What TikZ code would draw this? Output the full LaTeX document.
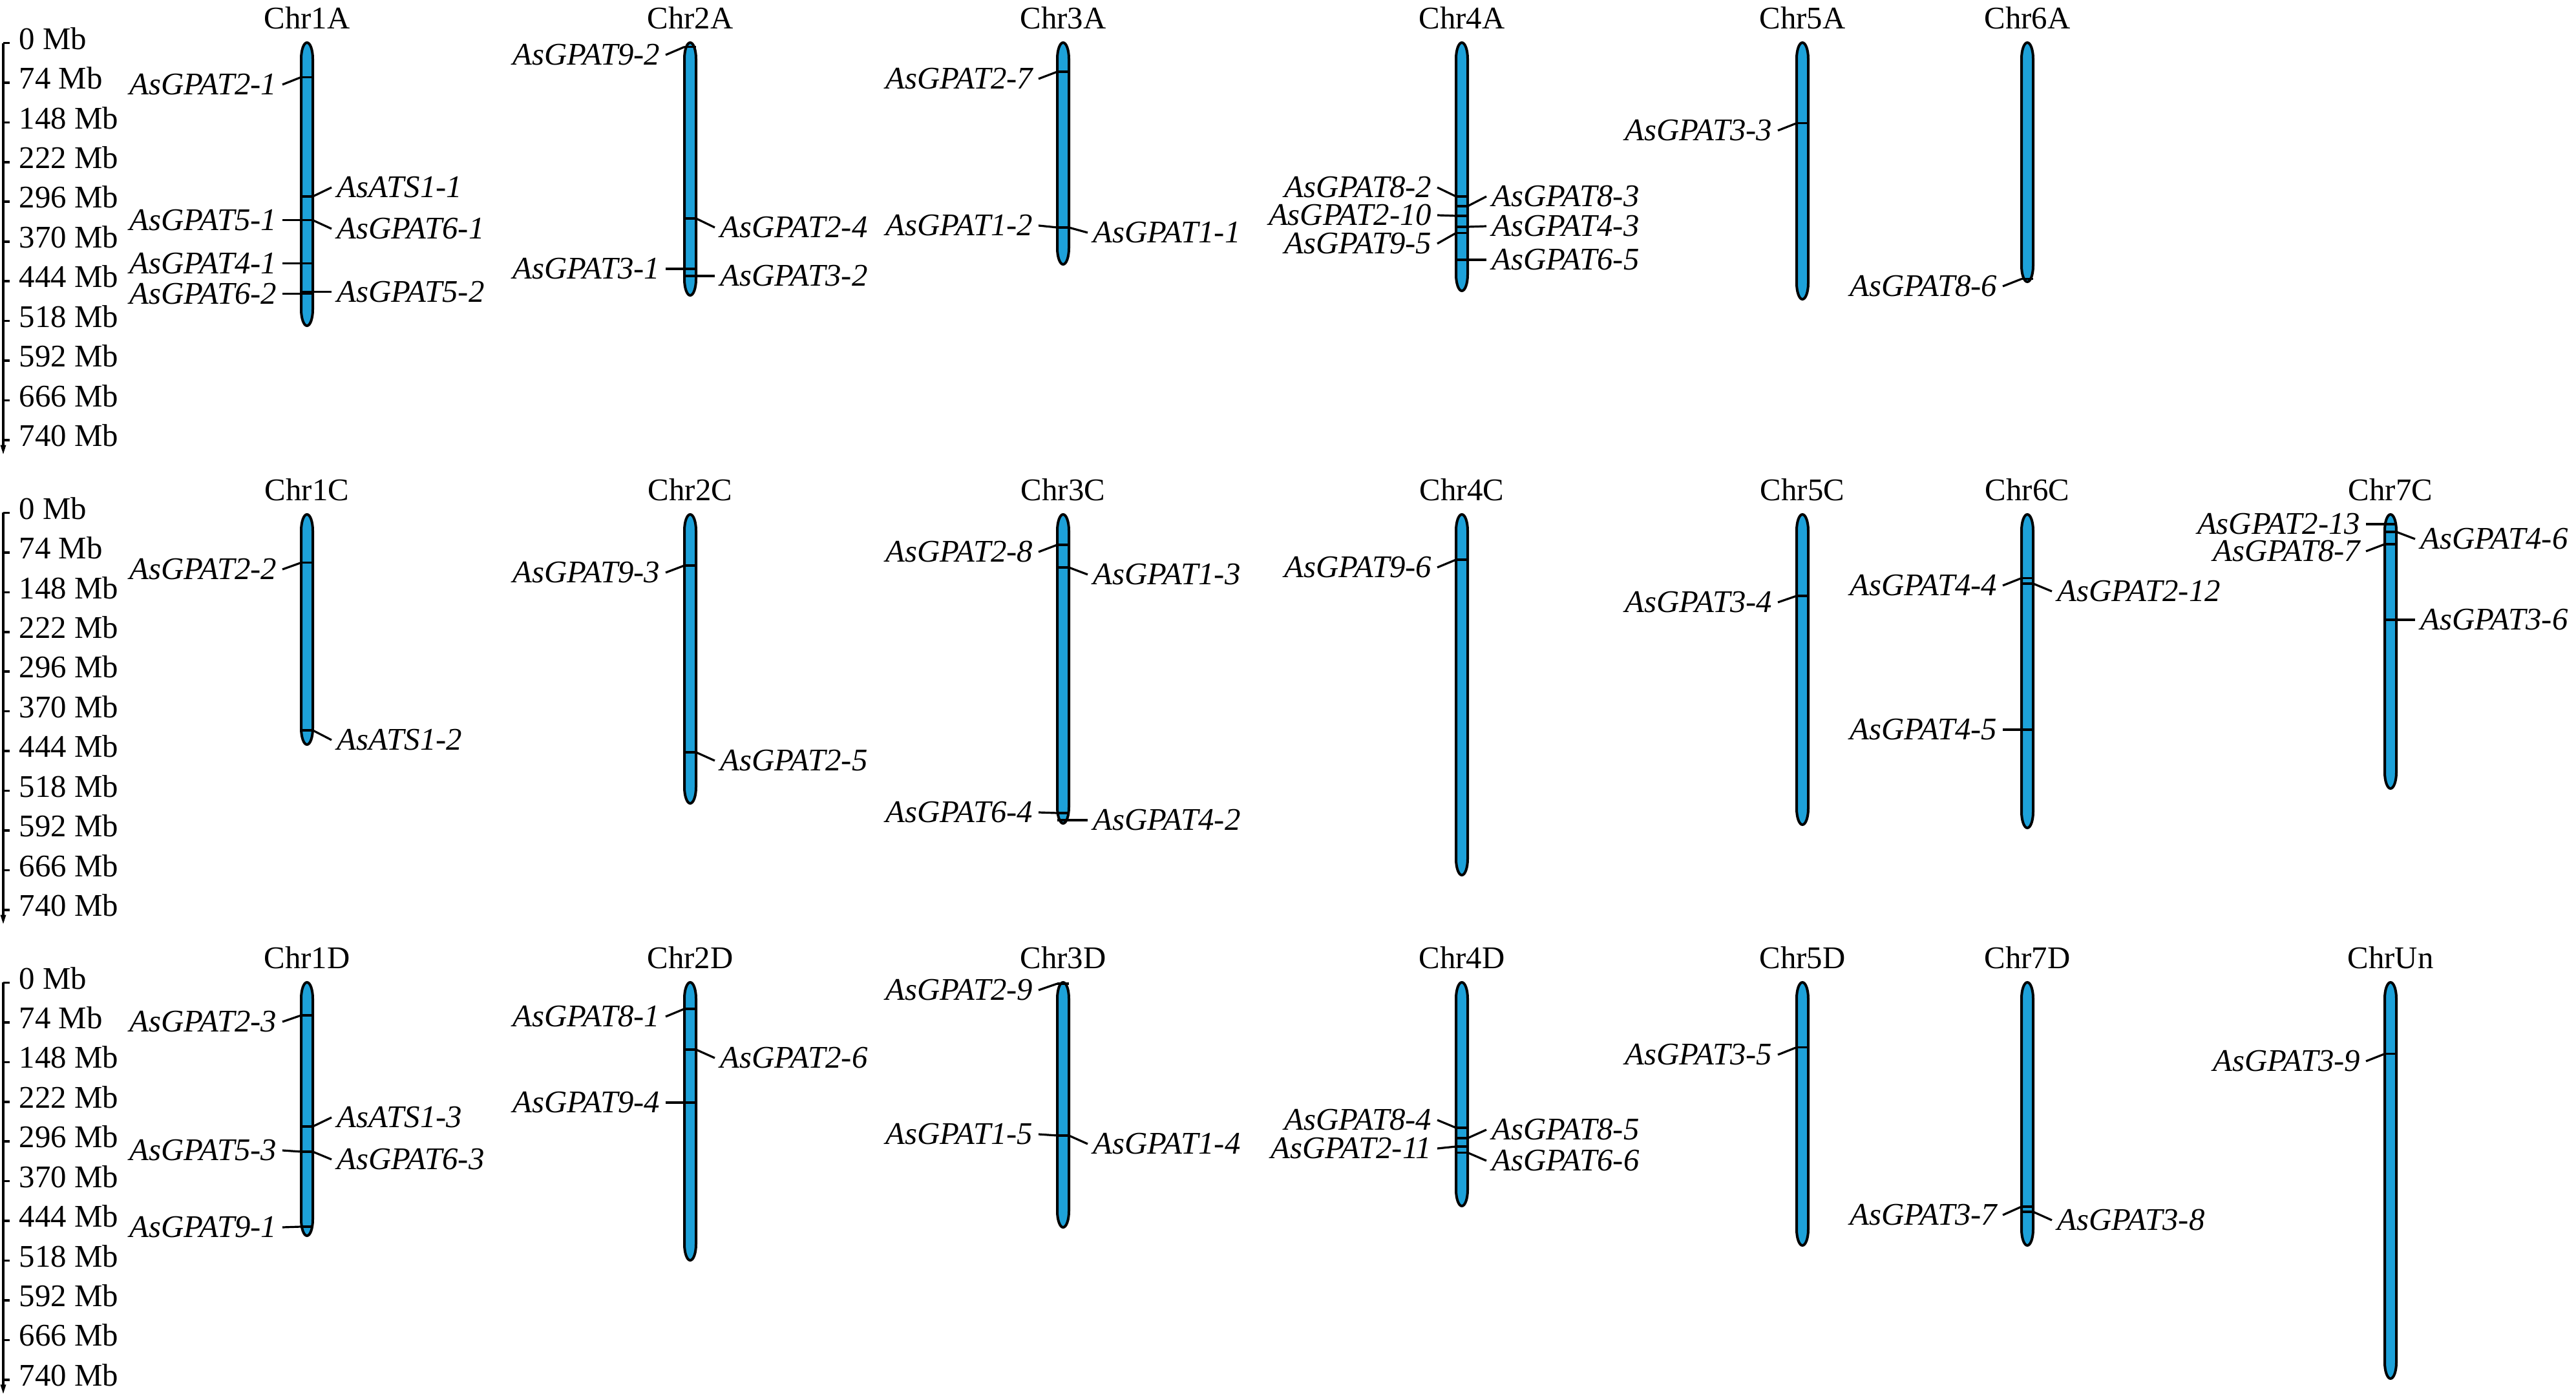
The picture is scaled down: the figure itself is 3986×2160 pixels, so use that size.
\documentclass[tikz,border=0pt]{standalone}
\usepackage{fontspec}
\setmainfont{Liberation Serif}

\begin{document}
\begin{tikzpicture}[x=0.25pt,y=0.25pt,yscale=-1,xscale=1,
  chrom/.style={draw, line width=1pt, fill={rgb, 255:red, 29; green, 161; blue, 217}},
  locus/.style={line width=0.8pt},
  link/.style={line width=0.8pt},
  axis/.style={line width=0.9pt},
  gene/.style={font=\fontsize{12.2}{14}\selectfont\itshape, inner sep=2pt},
  title/.style={font=\fontsize{12.2}{14}\selectfont, inner sep=0.75pt},
  mb/.style={font=\fontsize{12.2}{14}\selectfont, anchor=west, inner sep=1pt}]
\useasboundingbox (0,0) rectangle (3986,2160);

%Straight Lines: scale bar row A
\draw [axis] (5,66.6) -- (5,690) ;
\draw [axis] (5,66.6) -- ++(10,0) (5,128) -- ++(10,0) (5,189.5) -- ++(10,0) (5,250.9) -- ++(10,0) (5,312.3) -- ++(10,0) (5,373.8) -- ++(10,0) (5,435.2) -- ++(10,0) (5,496.6) -- ++(10,0) (5,558) -- ++(10,0) (5,619.5) -- ++(10,0) (5,680.9) -- ++(10,0) ;
\draw [shift={(5,702.6)}, rotate = 270] [fill={rgb, 255:red, 0; green, 0; blue, 0 }  ][line width=0.08]  [draw opacity=0] (14,-4.5) -- (0,0) -- (14,4.5) -- cycle    ;
% Text Node
\draw (25,59.6) node [mb] (sa0) {0 Mb};
\draw (25,121) node [mb] (sa74) {74 Mb};
\draw (25,182.5) node [mb] (sa148) {148 Mb};
\draw (25,243.9) node [mb] (sa222) {222 Mb};
\draw (25,305.3) node [mb] (sa296) {296 Mb};
\draw (25,366.8) node [mb] (sa370) {370 Mb};
\draw (25,428.2) node [mb] (sa444) {444 Mb};
\draw (25,489.6) node [mb] (sa518) {518 Mb};
\draw (25,551) node [mb] (sa592) {592 Mb};
\draw (25,612.5) node [mb] (sa666) {666 Mb};
\draw (25,673.9) node [mb] (sa740) {740 Mb};

%Straight Lines: scale bar row C
\draw [axis] (5,793.5) -- (5,1417) ;
\draw [axis] (5,793.5) -- ++(10,0) (5,854.9) -- ++(10,0) (5,916.4) -- ++(10,0) (5,977.8) -- ++(10,0) (5,1039.2) -- ++(10,0) (5,1100.7) -- ++(10,0) (5,1162.1) -- ++(10,0) (5,1223.5) -- ++(10,0) (5,1284.9) -- ++(10,0) (5,1346.4) -- ++(10,0) (5,1407.8) -- ++(10,0) ;
\draw [shift={(5,1429.5)}, rotate = 270] [fill={rgb, 255:red, 0; green, 0; blue, 0 }  ][line width=0.08]  [draw opacity=0] (14,-4.5) -- (0,0) -- (14,4.5) -- cycle    ;
% Text Node
\draw (25,786.5) node [mb] (sc0) {0 Mb};
\draw (25,847.9) node [mb] (sc74) {74 Mb};
\draw (25,909.4) node [mb] (sc148) {148 Mb};
\draw (25,970.8) node [mb] (sc222) {222 Mb};
\draw (25,1032.2) node [mb] (sc296) {296 Mb};
\draw (25,1093.7) node [mb] (sc370) {370 Mb};
\draw (25,1155.1) node [mb] (sc444) {444 Mb};
\draw (25,1216.5) node [mb] (sc518) {518 Mb};
\draw (25,1277.9) node [mb] (sc592) {592 Mb};
\draw (25,1339.4) node [mb] (sc666) {666 Mb};
\draw (25,1400.8) node [mb] (sc740) {740 Mb};

%Straight Lines: scale bar row D
\draw [axis] (5,1520.4) -- (5,2144) ;
\draw [axis] (5,1520.4) -- ++(10,0) (5,1581.8) -- ++(10,0) (5,1643.3) -- ++(10,0) (5,1704.7) -- ++(10,0) (5,1766.1) -- ++(10,0) (5,1827.6) -- ++(10,0) (5,1889) -- ++(10,0) (5,1950.4) -- ++(10,0) (5,2011.8) -- ++(10,0) (5,2073.3) -- ++(10,0) (5,2134.7) -- ++(10,0) ;
\draw [shift={(5,2156.4)}, rotate = 270] [fill={rgb, 255:red, 0; green, 0; blue, 0 }  ][line width=0.08]  [draw opacity=0] (14,-4.5) -- (0,0) -- (14,4.5) -- cycle    ;
% Text Node
\draw (25,1513.4) node [mb] (sd0) {0 Mb};
\draw (25,1574.8) node [mb] (sd74) {74 Mb};
\draw (25,1636.3) node [mb] (sd148) {148 Mb};
\draw (25,1697.7) node [mb] (sd222) {222 Mb};
\draw (25,1759.1) node [mb] (sd296) {296 Mb};
\draw (25,1820.6) node [mb] (sd370) {370 Mb};
\draw (25,1882) node [mb] (sd444) {444 Mb};
\draw (25,1943.4) node [mb] (sd518) {518 Mb};
\draw (25,2004.8) node [mb] (sd592) {592 Mb};
\draw (25,2066.3) node [mb] (sd666) {666 Mb};
\draw (25,2127.7) node [mb] (sd740) {740 Mb};

%Shape: Chromosomes row A
\draw [chrom] (466,91) -- (466,479) arc [start angle=180, end angle=0, x radius=9, y radius=25] -- (484,91) arc [start angle=0, end angle=-180, x radius=9, y radius=25] -- cycle ;
\draw [chrom] (1059,91) -- (1059,432) arc [start angle=180, end angle=0, x radius=9, y radius=25] -- (1077,91) arc [start angle=0, end angle=-180, x radius=9, y radius=25] -- cycle ;
\draw [chrom] (1636,91) -- (1636,384) arc [start angle=180, end angle=0, x radius=9, y radius=25] -- (1654,91) arc [start angle=0, end angle=-180, x radius=9, y radius=25] -- cycle ;
\draw [chrom] (2253,91) -- (2253,425) arc [start angle=180, end angle=0, x radius=9, y radius=25] -- (2271,91) arc [start angle=0, end angle=-180, x radius=9, y radius=25] -- cycle ;
\draw [chrom] (2780,91) -- (2780,438) arc [start angle=180, end angle=0, x radius=9, y radius=25] -- (2798,91) arc [start angle=0, end angle=-180, x radius=9, y radius=25] -- cycle ;
\draw [chrom] (3128,91) -- (3128,411) arc [start angle=180, end angle=0, x radius=9, y radius=25] -- (3146,91) arc [start angle=0, end angle=-180, x radius=9, y radius=25] -- cycle ;
% Text Node
\draw (475,28) node [title] (chr1a) {Chr1A};
\draw (1068,28) node [title] (chr2a) {Chr2A};
\draw (1645,28) node [title] (chr3a) {Chr3A};
\draw (2262,28) node [title] (chr4a) {Chr4A};
\draw (2789,28) node [title] (chr5a) {Chr5A};
\draw (3137,28) node [title] (chr6a) {Chr6A};

%Shape: Chromosomes row C
\draw [chrom] (466,821) -- (466,1127) arc [start angle=180, end angle=0, x radius=9, y radius=25] -- (484,821) arc [start angle=0, end angle=-180, x radius=9, y radius=25] -- cycle ;
\draw [chrom] (1059,821) -- (1059,1218) arc [start angle=180, end angle=0, x radius=9, y radius=25] -- (1077,821) arc [start angle=0, end angle=-180, x radius=9, y radius=25] -- cycle ;
\draw [chrom] (1636,821) -- (1636,1249) arc [start angle=180, end angle=0, x radius=9, y radius=25] -- (1654,821) arc [start angle=0, end angle=-180, x radius=9, y radius=25] -- cycle ;
\draw [chrom] (2253,821) -- (2253,1329) arc [start angle=180, end angle=0, x radius=9, y radius=25] -- (2271,821) arc [start angle=0, end angle=-180, x radius=9, y radius=25] -- cycle ;
\draw [chrom] (2780,821) -- (2780,1251) arc [start angle=180, end angle=0, x radius=9, y radius=25] -- (2798,821) arc [start angle=0, end angle=-180, x radius=9, y radius=25] -- cycle ;
\draw [chrom] (3128,821) -- (3128,1256) arc [start angle=180, end angle=0, x radius=9, y radius=25] -- (3146,821) arc [start angle=0, end angle=-180, x radius=9, y radius=25] -- cycle ;
\draw [chrom] (3690,821) -- (3690,1195) arc [start angle=180, end angle=0, x radius=9, y radius=25] -- (3708,821) arc [start angle=0, end angle=-180, x radius=9, y radius=25] -- cycle ;
% Text Node
\draw (475,758) node [title] (chr1c) {Chr1C};
\draw (1068,758) node [title] (chr2c) {Chr2C};
\draw (1645,758) node [title] (chr3c) {Chr3C};
\draw (2262,758) node [title] (chr4c) {Chr4C};
\draw (2789,758) node [title] (chr5c) {Chr5C};
\draw (3137,758) node [title] (chr6c) {Chr6C};
\draw (3699,758) node [title] (chr7c) {Chr7C};

%Shape: Chromosomes row D
\draw [chrom] (466,1545) -- (466,1887) arc [start angle=180, end angle=0, x radius=9, y radius=25] -- (484,1545) arc [start angle=0, end angle=-180, x radius=9, y radius=25] -- cycle ;
\draw [chrom] (1059,1545) -- (1059,1925) arc [start angle=180, end angle=0, x radius=9, y radius=25] -- (1077,1545) arc [start angle=0, end angle=-180, x radius=9, y radius=25] -- cycle ;
\draw [chrom] (1636,1545) -- (1636,1874) arc [start angle=180, end angle=0, x radius=9, y radius=25] -- (1654,1545) arc [start angle=0, end angle=-180, x radius=9, y radius=25] -- cycle ;
\draw [chrom] (2253,1545) -- (2253,1841) arc [start angle=180, end angle=0, x radius=9, y radius=25] -- (2271,1545) arc [start angle=0, end angle=-180, x radius=9, y radius=25] -- cycle ;
\draw [chrom] (2780,1545) -- (2780,1902) arc [start angle=180, end angle=0, x radius=9, y radius=25] -- (2798,1545) arc [start angle=0, end angle=-180, x radius=9, y radius=25] -- cycle ;
\draw [chrom] (3128,1545) -- (3128,1902) arc [start angle=180, end angle=0, x radius=9, y radius=25] -- (3146,1545) arc [start angle=0, end angle=-180, x radius=9, y radius=25] -- cycle ;
\draw [chrom] (3690,1545) -- (3690,2108) arc [start angle=180, end angle=0, x radius=9, y radius=25] -- (3708,1545) arc [start angle=0, end angle=-180, x radius=9, y radius=25] -- cycle ;
% Text Node
\draw (475,1482) node [title] (chr1d) {Chr1D};
\draw (1068,1482) node [title] (chr2d) {Chr2D};
\draw (1645,1482) node [title] (chr3d) {Chr3D};
\draw (2262,1482) node [title] (chr4d) {Chr4D};
\draw (2789,1482) node [title] (chr5d) {Chr5D};
\draw (3137,1482) node [title] (chr7d) {Chr7D};
\draw (3699,1482) node [title] (chrun) {ChrUn};

%Genes on Chr1A
\draw (437,130.9) node [gene, anchor=east] (g2-1) {AsGPAT2-1};
\coordinate (c2-1) at (466,119.4);
\draw [locus] (c2-1) -- ++(18,0) ; \draw [link] (c2-1) -- (g2-1.east) ;
\draw (513,290) node [gene, anchor=west] (gs1-1) {AsATS1-1};
\coordinate (cs1-1) at (484,304);
\draw [locus] (cs1-1) -- ++(-18,0) ; \draw [link] (cs1-1) -- (gs1-1.west) ;
\draw (437,340.7) node [gene, anchor=east] (g5-1) {AsGPAT5-1};
\coordinate (c5-1) at (466,340.7);
\draw [locus] (c5-1) -- ++(18,0) ; \draw [link] (c5-1) -- (g5-1.east) ;
\draw (513,354) node [gene, anchor=west] (g6-1) {AsGPAT6-1};
\coordinate (c6-1) at (484,340.7);
\draw [locus] (c6-1) -- ++(-18,0) ; \draw [link] (c6-1) -- (g6-1.west) ;
\draw (437,407.8) node [gene, anchor=east] (g4-1) {AsGPAT4-1};
\coordinate (c4-1) at (466,407.8);
\draw [locus] (c4-1) -- ++(18,0) ; \draw [link] (c4-1) -- (g4-1.east) ;
\draw (437,454.6) node [gene, anchor=east] (g6-2) {AsGPAT6-2};
\coordinate (c6-2) at (466,454.6);
\draw [locus] (c6-2) -- ++(18,0) ; \draw [link] (c6-2) -- (g6-2.east) ;
\draw (513,451.4) node [gene, anchor=west] (g5-2) {AsGPAT5-2};
\coordinate (c5-2) at (484,451.4);
\draw [locus] (c5-2) -- ++(-18,0) ; \draw [link] (c5-2) -- (g5-2.west) ;

%Genes on Chr2A
\draw (1030,85) node [gene, anchor=east] (g9-2) {AsGPAT9-2};
\coordinate (c9-2) at (1059,72.6);
\draw [locus] (c9-2) -- ++(18,0) ; \draw [link] (c9-2) -- (g9-2.east) ;
\draw (1106,352) node [gene, anchor=west] (g2-4) {AsGPAT2-4};
\coordinate (c2-4) at (1077,338);
\draw [locus] (c2-4) -- ++(-18,0) ; \draw [link] (c2-4) -- (g2-4.west) ;
\draw (1030,416) node [gene, anchor=east] (g3-1) {AsGPAT3-1};
\coordinate (c3-1) at (1059,416);
\draw [locus] (c3-1) -- ++(18,0) ; \draw [link] (c3-1) -- (g3-1.east) ;
\draw (1106,427) node [gene, anchor=west] (g3-2) {AsGPAT3-2};
\coordinate (c3-2) at (1077,427);
\draw [locus] (c3-2) -- ++(-18,0) ; \draw [link] (c3-2) -- (g3-2.west) ;

%Genes on Chr3A
\draw (1607,122) node [gene, anchor=east] (g2-7) {AsGPAT2-7};
\coordinate (c2-7) at (1636,111);
\draw [locus] (c2-7) -- ++(18,0) ; \draw [link] (c2-7) -- (g2-7.east) ;
\draw (1607,349) node [gene, anchor=east] (g1-2) {AsGPAT1-2};
\coordinate (c1-2) at (1636,352);
\draw [locus] (c1-2) -- ++(18,0) ; \draw [link] (c1-2) -- (g1-2.east) ;
\draw (1683,360) node [gene, anchor=west] (g1-1) {AsGPAT1-1};
\coordinate (c1-1) at (1654,352);
\draw [locus] (c1-1) -- ++(-18,0) ; \draw [link] (c1-1) -- (g1-1.west) ;

%Genes on Chr4A
\draw (2224,290) node [gene, anchor=east] (g8-2) {AsGPAT8-2};
\coordinate (c8-2) at (2253,304);
\draw [locus] (c8-2) -- ++(18,0) ; \draw [link] (c8-2) -- (g8-2.east) ;
\draw (2300,304) node [gene, anchor=west] (g8-3) {AsGPAT8-3};
\coordinate (c8-3) at (2271,319);
\draw [locus] (c8-3) -- ++(-18,0) ; \draw [link] (c8-3) -- (g8-3.west) ;
\draw (2224,333) node [gene, anchor=east] (g2-10) {AsGPAT2-10};
\coordinate (c2-10) at (2253,334);
\draw [locus] (c2-10) -- ++(18,0) ; \draw [link] (c2-10) -- (g2-10.east) ;
\draw (2300,350) node [gene, anchor=west] (g4-3) {AsGPAT4-3};
\coordinate (c4-3) at (2271,351);
\draw [locus] (c4-3) -- ++(-18,0) ; \draw [link] (c4-3) -- (g4-3.west) ;
\draw (2224,377) node [gene, anchor=east] (g9-5) {AsGPAT9-5};
\coordinate (c9-5) at (2253,360.5);
\draw [locus] (c9-5) -- ++(18,0) ; \draw [link] (c9-5) -- (g9-5.east) ;
\draw (2300,402) node [gene, anchor=west] (g6-5) {AsGPAT6-5};
\coordinate (c6-5) at (2271,402);
\draw [locus] (c6-5) -- ++(-18,0) ; \draw [link] (c6-5) -- (g6-5.west) ;

%Genes on Chr5A and Chr6A
\draw (2751,202) node [gene, anchor=east] (g3-3) {AsGPAT3-3};
\coordinate (c3-3) at (2780,190.6);
\draw [locus] (c3-3) -- ++(18,0) ; \draw [link] (c3-3) -- (g3-3.east) ;
\draw (3099,443) node [gene, anchor=east] (g8-6) {AsGPAT8-6};
\coordinate (c8-6) at (3128,431.6);
\draw [locus] (c8-6) -- ++(18,0) ; \draw [link] (c8-6) -- (g8-6.east) ;

%Genes on Chr1C and Chr2C
\draw (437,881) node [gene, anchor=east] (g2-2) {AsGPAT2-2};
\coordinate (c2-2) at (466,870.6);
\draw [locus] (c2-2) -- ++(18,0) ; \draw [link] (c2-2) -- (g2-2.east) ;
\draw (513,1145) node [gene, anchor=west] (gs1-2) {AsATS1-2};
\coordinate (cs1-2) at (484,1130);
\draw [locus] (cs1-2) -- ++(-18,0) ; \draw [link] (cs1-2) -- (gs1-2.west) ;
\draw (1030,886) node [gene, anchor=east] (g9-3) {AsGPAT9-3};
\coordinate (c9-3) at (1059,875);
\draw [locus] (c9-3) -- ++(18,0) ; \draw [link] (c9-3) -- (g9-3.east) ;
\draw (1106,1177) node [gene, anchor=west] (g2-5) {AsGPAT2-5};
\coordinate (c2-5) at (1077,1164);
\draw [locus] (c2-5) -- ++(-18,0) ; \draw [link] (c2-5) -- (g2-5.west) ;

%Genes on Chr3C
\draw (1607,854) node [gene, anchor=east] (g2-8) {AsGPAT2-8};
\coordinate (c2-8) at (1636,843);
\draw [locus] (c2-8) -- ++(18,0) ; \draw [link] (c2-8) -- (g2-8.east) ;
\draw (1683,889) node [gene, anchor=west] (g1-3) {AsGPAT1-3};
\coordinate (c1-3) at (1654,878);
\draw [locus] (c1-3) -- ++(-18,0) ; \draw [link] (c1-3) -- (g1-3.west) ;
\draw (1607,1257) node [gene, anchor=east] (g6-4) {AsGPAT6-4};
\coordinate (c6-4) at (1636,1258);
\draw [locus] (c6-4) -- ++(18,0) ; \draw [link] (c6-4) -- (g6-4.east) ;
\draw (1683,1269) node [gene, anchor=west] (g4-2) {AsGPAT4-2};
\coordinate (c4-2) at (1654,1269);
\draw [locus] (c4-2) -- ++(-18,0) ; \draw [link] (c4-2) -- (g4-2.west) ;

%Genes on Chr4C, Chr5C and Chr6C
\draw (2224,878) node [gene, anchor=east] (g9-6) {AsGPAT9-6};
\coordinate (c9-6) at (2253,866);
\draw [locus] (c9-6) -- ++(18,0) ; \draw [link] (c9-6) -- (g9-6.east) ;
\draw (2751,932) node [gene, anchor=east] (g3-4) {AsGPAT3-4};
\coordinate (c3-4) at (2780,922);
\draw [locus] (c3-4) -- ++(18,0) ; \draw [link] (c3-4) -- (g3-4.east) ;
\draw (3099,906) node [gene, anchor=east] (g4-4) {AsGPAT4-4};
\coordinate (c4-4) at (3128,894.5);
\draw [locus] (c4-4) -- ++(18,0) ; \draw [link] (c4-4) -- (g4-4.east) ;
\draw (3175,915) node [gene, anchor=west] (g2-12) {AsGPAT2-12};
\coordinate (c2-12) at (3146,903);
\draw [locus] (c2-12) -- ++(-18,0) ; \draw [link] (c2-12) -- (g2-12.west) ;
\draw (3099,1129) node [gene, anchor=east] (g4-5) {AsGPAT4-5};
\coordinate (c4-5) at (3128,1129);
\draw [locus] (c4-5) -- ++(18,0) ; \draw [link] (c4-5) -- (g4-5.east) ;

%Genes on Chr7C
\draw (3661,811) node [gene, anchor=east] (g2-13) {AsGPAT2-13};
\coordinate (c2-13) at (3690,811);
\draw [locus] (c2-13) -- ++(18,0) ; \draw [link] (c2-13) -- (g2-13.east) ;
\draw (3737,834) node [gene, anchor=west] (g4-6) {AsGPAT4-6};
\coordinate (c4-6) at (3708,823);
\draw [locus] (c4-6) -- ++(-18,0) ; \draw [link] (c4-6) -- (g4-6.west) ;
\draw (3661,853) node [gene, anchor=east] (g8-7) {AsGPAT8-7};
\coordinate (c8-7) at (3690,842);
\draw [locus] (c8-7) -- ++(18,0) ; \draw [link] (c8-7) -- (g8-7.east) ;
\draw (3737,959) node [gene, anchor=west] (g3-6) {AsGPAT3-6};
\coordinate (c3-6) at (3708,959);
\draw [locus] (c3-6) -- ++(-18,0) ; \draw [link] (c3-6) -- (g3-6.west) ;

%Genes on Chr1D
\draw (437,1581) node [gene, anchor=east] (g2-3) {AsGPAT2-3};
\coordinate (c2-3) at (466,1571);
\draw [locus] (c2-3) -- ++(18,0) ; \draw [link] (c2-3) -- (g2-3.east) ;
\draw (513,1729) node [gene, anchor=west] (gs1-3) {AsATS1-3};
\coordinate (cs1-3) at (484,1743);
\draw [locus] (cs1-3) -- ++(-18,0) ; \draw [link] (cs1-3) -- (gs1-3.west) ;
\draw (437,1780) node [gene, anchor=east] (g5-3) {AsGPAT5-3};
\coordinate (c5-3) at (466,1782);
\draw [locus] (c5-3) -- ++(18,0) ; \draw [link] (c5-3) -- (g5-3.east) ;
\draw (513,1794) node [gene, anchor=west] (g6-3) {AsGPAT6-3};
\coordinate (c6-3) at (484,1782);
\draw [locus] (c6-3) -- ++(-18,0) ; \draw [link] (c6-3) -- (g6-3.west) ;
\draw (437,1899) node [gene, anchor=east] (g9-1) {AsGPAT9-1};
\coordinate (c9-1) at (466,1898);
\draw [locus] (c9-1) -- ++(18,0) ; \draw [link] (c9-1) -- (g9-1.east) ;

%Genes on Chr2D
\draw (1030,1573) node [gene, anchor=east] (g8-1) {AsGPAT8-1};
\coordinate (c8-1) at (1059,1561);
\draw [locus] (c8-1) -- ++(18,0) ; \draw [link] (c8-1) -- (g8-1.east) ;
\draw (1106,1637) node [gene, anchor=west] (g2-6) {AsGPAT2-6};
\coordinate (c2-6) at (1077,1624);
\draw [locus] (c2-6) -- ++(-18,0) ; \draw [link] (c2-6) -- (g2-6.west) ;
\draw (1030,1706) node [gene, anchor=east] (g9-4) {AsGPAT9-4};
\coordinate (c9-4) at (1059,1706);
\draw [locus] (c9-4) -- ++(18,0) ; \draw [link] (c9-4) -- (g9-4.east) ;

%Genes on Chr3D
\draw (1607,1532) node [gene, anchor=east] (g2-9) {AsGPAT2-9};
\coordinate (c2-9) at (1636,1522);
\draw [locus] (c2-9) -- ++(18,0) ; \draw [link] (c2-9) -- (g2-9.east) ;
\draw (1607,1755) node [gene, anchor=east] (g1-5) {AsGPAT1-5};
\coordinate (c1-5) at (1636,1757);
\draw [locus] (c1-5) -- ++(18,0) ; \draw [link] (c1-5) -- (g1-5.east) ;
\draw (1683,1770) node [gene, anchor=west] (g1-4) {AsGPAT1-4};
\coordinate (c1-4) at (1654,1757);
\draw [locus] (c1-4) -- ++(-18,0) ; \draw [link] (c1-4) -- (g1-4.west) ;

%Genes on Chr4D
\draw (2224,1733) node [gene, anchor=east] (g8-4) {AsGPAT8-4};
\coordinate (c8-4) at (2253,1745);
\draw [locus] (c8-4) -- ++(18,0) ; \draw [link] (c8-4) -- (g8-4.east) ;
\draw (2300,1748) node [gene, anchor=west] (g8-5) {AsGPAT8-5};
\coordinate (c8-5) at (2271,1761);
\draw [locus] (c8-5) -- ++(-18,0) ; \draw [link] (c8-5) -- (g8-5.west) ;
\draw (2224,1777) node [gene, anchor=east] (g2-11) {AsGPAT2-11};
\coordinate (c2-11) at (2253,1774);
\draw [locus] (c2-11) -- ++(18,0) ; \draw [link] (c2-11) -- (g2-11.east) ;
\draw (2300,1796) node [gene, anchor=west] (g6-6) {AsGPAT6-6};
\coordinate (c6-6) at (2271,1783.5);
\draw [locus] (c6-6) -- ++(-18,0) ; \draw [link] (c6-6) -- (g6-6.west) ;

%Genes on Chr5D, Chr7D and ChrUn
\draw (2751,1632) node [gene, anchor=east] (g3-5) {AsGPAT3-5};
\coordinate (c3-5) at (2780,1620.5);
\draw [locus] (c3-5) -- ++(18,0) ; \draw [link] (c3-5) -- (g3-5.east) ;
\draw (3099,1880) node [gene, anchor=east] (g3-7) {AsGPAT3-7};
\coordinate (c3-7) at (3128,1867);
\draw [locus] (c3-7) -- ++(18,0) ; \draw [link] (c3-7) -- (g3-7.east) ;
\draw (3175,1888) node [gene, anchor=west] (g3-8) {AsGPAT3-8};
\coordinate (c3-8) at (3146,1875);
\draw [locus] (c3-8) -- ++(-18,0) ; \draw [link] (c3-8) -- (g3-8.west) ;
\draw (3661,1642) node [gene, anchor=east] (g3-9) {AsGPAT3-9};
\coordinate (c3-9) at (3690,1630.6);
\draw [locus] (c3-9) -- ++(18,0) ; \draw [link] (c3-9) -- (g3-9.east) ;

\end{tikzpicture}
\end{document}
